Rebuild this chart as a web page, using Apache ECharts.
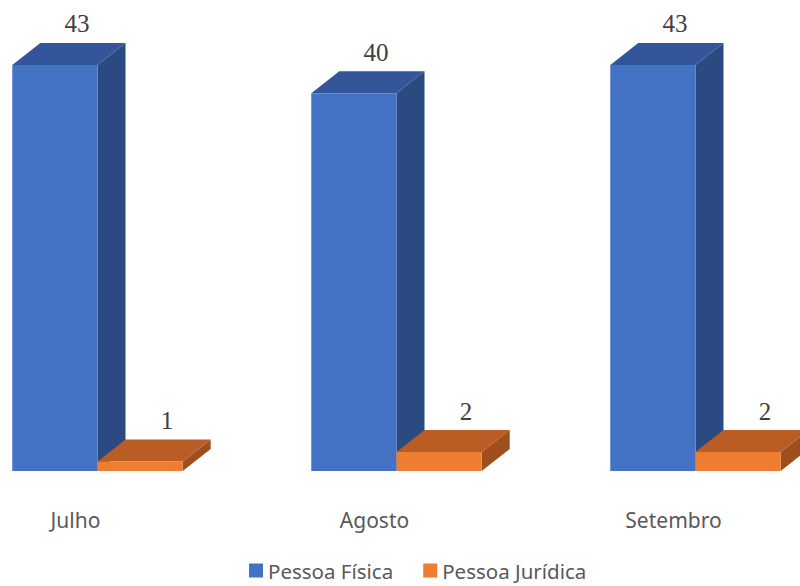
<!DOCTYPE html>
<html>
<head>
<meta charset="utf-8">
<script src="https://cdn.jsdelivr.net/npm/echarts@6/dist/echarts.min.js"></script>
<style>
  html, body { margin: 0; padding: 0; background: #fff; overflow: hidden; }
  #wrap { position: relative; width: 800px; height: 586px; overflow: hidden; }
  /* chart is wider than the window so the first and last groups sit near the edges */
  #chart { position: absolute; left: -52.5px; top: 0; width: 897px; height: 586px; }
</style>
</head>
<body>
<div id="wrap"><div id="chart"></div></div>
<script>
const categories = ['Julho', 'Agosto', 'Setembro'];
const seriesNames = ['Pessoa Física', 'Pessoa Jurídica'];
const pessoaFisica = [43, 40, 43];
const pessoaJuridica = [1, 2, 2];

// face colours: front, top, side
const palette = [
  { front: '#4472C4', top: '#33569A', side: '#2B4A82' },
  { front: '#ED7D31', top: '#B95D25', side: '#9E4F1D' }
];

const DX = 28, DY = 22;
const labelShift = [22, 27];

function makeRender(slot) {
  const c = palette[slot];
  return function (params, api) {
    const idx = api.value(0);
    const val = api.value(1);
    const topPt = api.coord([idx, val]);
    const basePt = api.coord([idx, 0]);
    const band = api.size([1, 0])[0];
    const w = band * 0.285;
    const x0 = slot === 0 ? topPt[0] - w : topPt[0];
    const x1 = x0 + w;
    const yT = topPt[1], yB = basePt[1];
    return {
      type: 'group',
      children: [
        {
          type: 'polygon',
          shape: { points: [[x1, yB], [x1 + DX, yB - DY], [x1 + DX, yT - DY], [x1, yT]] },
          style: { fill: c.side }
        },
        {
          type: 'polygon',
          shape: { points: [[x0, yT], [x0 + DX, yT - DY], [x1 + DX, yT - DY], [x1, yT]] },
          style: { fill: c.top }
        },
        {
          type: 'rect',
          shape: { x: x0, y: yT, width: w, height: yB - yT },
          style: { fill: c.front }
        },
        {
          type: 'text',
          x: (x0 + x1) / 2 + labelShift[slot],
          y: yT - DY - 19,
          style: {
            text: String(val),
            fill: '#404040',
            font: '25px "Liberation Serif", serif',
            align: 'center',
            verticalAlign: 'middle'
          }
        }
      ]
    };
  };
}

const chart = echarts.init(document.getElementById('chart'), null, { renderer: 'svg' });

const option = {
  animation: false,
  backgroundColor: '#ffffff',
  grid: { left: 0, right: 0, top: 46, bottom: 115 },
  legend: {
    bottom: 0,
    left: 296,
    icon: 'rect',
    itemWidth: 14,
    itemHeight: 14,
    itemGap: 30,
    textStyle: { fontFamily: 'Noto Sans', fontSize: 20.5, color: '#595959' },
    data: seriesNames
  },
  xAxis: {
    type: 'category',
    data: categories,
    axisLine: { show: false },
    axisTick: { show: false },
    axisLabel: {
      margin: 38,
      fontFamily: 'Noto Sans',
      fontSize: 21,
      color: '#595959',
      padding: [0, 44, 0, 0]
    }
  },
  yAxis: {
    type: 'value',
    min: 0,
    max: 45,
    show: false,
    splitLine: { show: false }
  },
  series: [
    {
      name: seriesNames[0],
      type: 'custom',
      renderItem: makeRender(0),
      itemStyle: { color: palette[0].front },
      encode: { x: 0, y: 1 },
      data: pessoaFisica.map((v, i) => [i, v])
    },
    {
      name: seriesNames[1],
      type: 'custom',
      renderItem: makeRender(1),
      itemStyle: { color: palette[1].front },
      encode: { x: 0, y: 1 },
      data: pessoaJuridica.map((v, i) => [i, v])
    }
  ]
};

chart.setOption(option);
</script>
</body>
</html>
